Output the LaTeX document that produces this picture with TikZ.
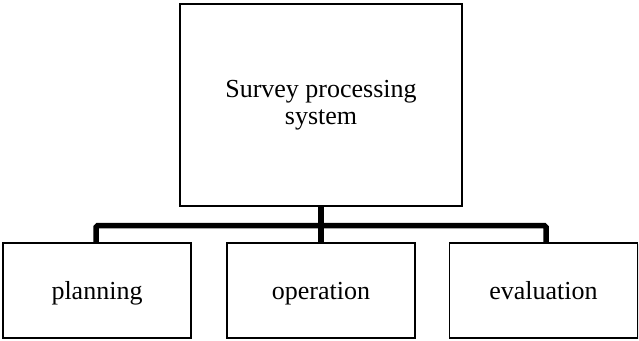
\documentclass[tikz,border=0pt]{standalone}
\usepackage{fontspec}
\setmainfont{Liberation Serif}
\usetikzlibrary{shadows}

\tikzset{
  unitbox/.style={draw=black, line width=1.4pt, fill=white,
    drop shadow={opacity=0.18, shadow xshift=1.2pt, shadow yshift=-1.2pt},
    align=center, inner sep=0pt, font=\fontsize{26}{27}\selectfont},
  leafbox/.style={unitbox, minimum width=188pt, minimum height=95pt,
    text height=18pt, text depth=1pt},
  bus/.style={draw=black, line width=5.5pt, rounded corners=1.5pt}
}

\begin{document}
\begin{tikzpicture}[x=1pt, y=-1pt]
    \useasboundingbox (0,0) rectangle (639,340);
    % top box
    \node[unitbox, minimum width=282pt, minimum height=202pt] (sys) at (321,105)
      {Survey processing\\system};
    % bottom boxes
    \node[leafbox] (plan) at (97,290.5) {planning};
    \node[leafbox] (oper) at (321,290.5) {operation};
    \node[leafbox] (eval) at (543.5,290.5) {evaluation};
    % connectors
    \draw[bus] (sys.south) -- ++(0,19) -| ([xshift=-1pt]plan.north);
    \draw[bus] (sys.south) -- ++(0,19) -| ([xshift=2.5pt]eval.north);
    \draw[bus] (sys.south) -- (oper.north);
  \end{tikzpicture}
\end{document}
